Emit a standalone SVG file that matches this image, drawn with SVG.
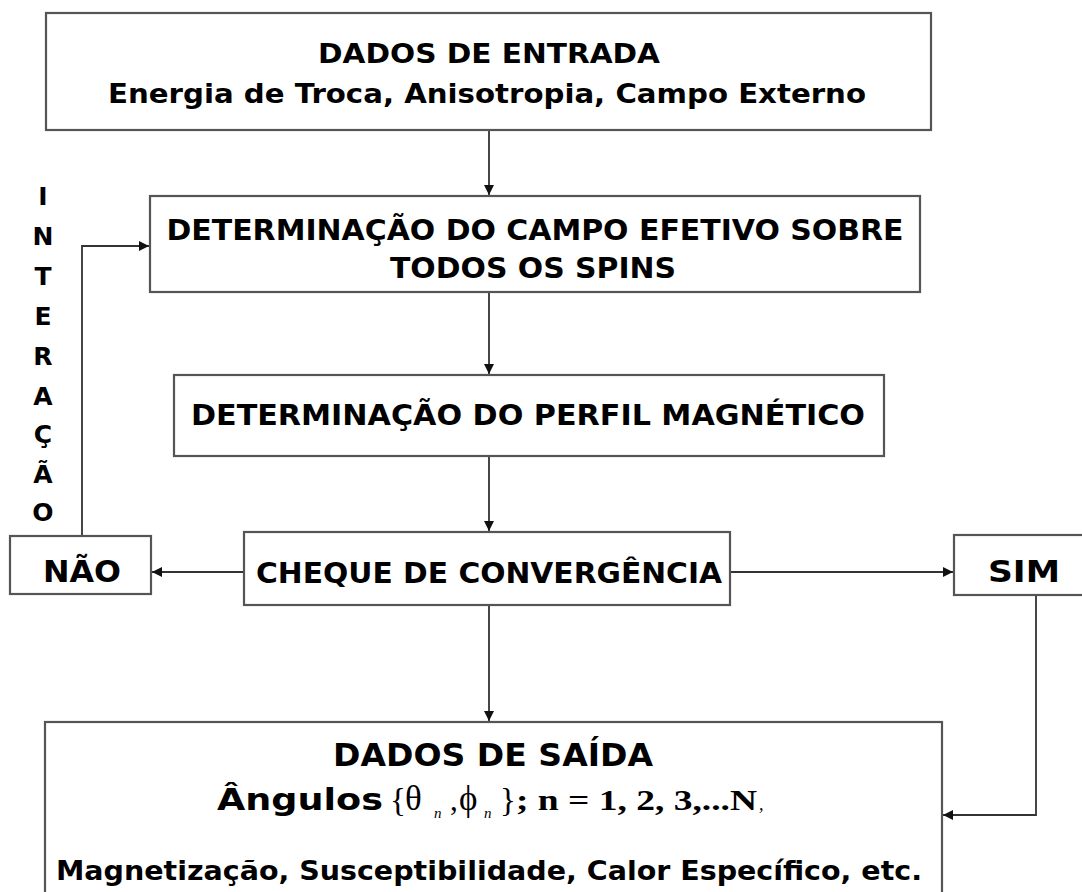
<svg xmlns="http://www.w3.org/2000/svg" width="1082" height="892" viewBox="0 0 1082 892">
<defs>
<marker id="arr" viewBox="0 0 10 10" refX="10" refY="5" markerWidth="10" markerHeight="10" markerUnits="userSpaceOnUse" orient="auto">
<path d="M0,0 L10,5 L0,10 z" fill="#111"/>
</marker>
<style>
.box{fill:#fff;stroke:#555;stroke-width:2.2}
.t{font-family:"DejaVu Sans","Verdana",sans-serif;font-weight:bold;fill:#000;text-anchor:middle}
.s{font-family:"Liberation Serif","Times New Roman",serif;fill:#000}
.c{fill:none;stroke:#333;stroke-width:1.8}
.v{font-size:25px}
</style>
</defs>
<rect width="1082" height="892" fill="#fff"/>

<g id="connectors">
<path class="c" d="M489,130 V195" marker-end="url(#arr)"/>
<path class="c" d="M489,292 V374" marker-end="url(#arr)"/>
<path class="c" d="M489,456 V531" marker-end="url(#arr)"/>
<path class="c" d="M489,605 V721" marker-end="url(#arr)"/>
<path class="c" d="M244,572 H152" marker-end="url(#arr)"/>
<path class="c" d="M730,572 H953" marker-end="url(#arr)"/>
<path class="c" d="M82,536 V246 H149" marker-end="url(#arr)"/>
<path class="c" d="M1036,595 V815 H943" marker-end="url(#arr)"/>
</g>

<g id="n1">
<rect class="box" x="46" y="13" width="885" height="117"/>
<text class="t" x="489" y="63" font-size="27" textLength="342" lengthAdjust="spacingAndGlyphs">DADOS DE ENTRADA</text>
<text class="t" x="487" y="103" font-size="27" textLength="758" lengthAdjust="spacingAndGlyphs">Energia de Troca, Anisotropia, Campo Externo</text>
</g>

<g id="n2">
<rect class="box" x="150" y="196" width="770" height="96"/>
<text class="t" x="535" y="240" font-size="28" textLength="737" lengthAdjust="spacingAndGlyphs">DETERMINAÇÃO DO CAMPO EFETIVO SOBRE</text>
<text class="t" x="533" y="278" font-size="28" textLength="286" lengthAdjust="spacingAndGlyphs">TODOS OS SPINS</text>
</g>

<g id="n3">
<rect class="box" x="174" y="375" width="710" height="81"/>
<text class="t" x="528" y="425" font-size="28" textLength="674" lengthAdjust="spacingAndGlyphs">DETERMINAÇÃO DO PERFIL MAGNÉTICO</text>
</g>

<g id="n4">
<rect class="box" x="244" y="532" width="486" height="73"/>
<text class="t" x="489" y="583" font-size="28" textLength="466" lengthAdjust="spacingAndGlyphs">CHEQUE DE CONVERGÊNCIA</text>
</g>

<g id="nao">
<rect class="box" x="10" y="536" width="141" height="58"/>
<text class="t" x="82" y="582" font-size="30" textLength="78" lengthAdjust="spacingAndGlyphs">NÃO</text>
</g>

<g id="sim">
<rect class="box" x="954" y="535" width="140" height="60"/>
<text class="t" x="1024" y="582" font-size="30" textLength="72" lengthAdjust="spacingAndGlyphs">SIM</text>
</g>

<g id="interacao">
<text class="t v" x="43" y="205">I</text>
<text class="t v" x="43" y="245">N</text>
<text class="t v" x="43" y="285">T</text>
<text class="t v" x="43" y="325">E</text>
<text class="t v" x="43" y="365">R</text>
<text class="t v" x="43" y="405">A</text>
<text class="t v" x="43" y="443">Ç</text>
<text class="t v" x="43" y="483">Ã</text>
<text class="t v" x="43" y="521">O</text>
</g>

<g id="n5">
<rect class="box" x="45" y="722" width="897" height="190"/>
<text class="t" x="493" y="766" font-size="32" textLength="320" lengthAdjust="spacingAndGlyphs">DADOS DE SAÍDA</text>
<text class="t" x="217" y="810" font-size="31" style="text-anchor:start" textLength="166" lengthAdjust="spacingAndGlyphs">Ângulos</text>
<text class="s" x="390" y="811" font-size="33">{</text>
<text class="s" x="405" y="810" font-size="35">θ</text>
<text class="s" x="434" y="818" font-size="15" font-style="italic">n</text>
<text class="s" x="450" y="810" font-size="31">,</text>
<text class="s" x="459" y="810" font-size="35">ϕ</text>
<text class="s" x="484" y="818" font-size="15" font-style="italic">n</text>
<text class="s" x="500" y="811" font-size="33">}</text>
<text class="s" x="516" y="810" font-size="30" font-weight="bold" textLength="241" lengthAdjust="spacingAndGlyphs">; n = 1, 2, 3,...N</text>
<text class="s" x="759" y="810" font-size="18" font-style="italic">,</text>
<text class="t" x="489" y="880" font-size="27" textLength="866" lengthAdjust="spacingAndGlyphs">Magnetização, Susceptibilidade, Calor Específico, etc.</text>
</g>
</svg>
